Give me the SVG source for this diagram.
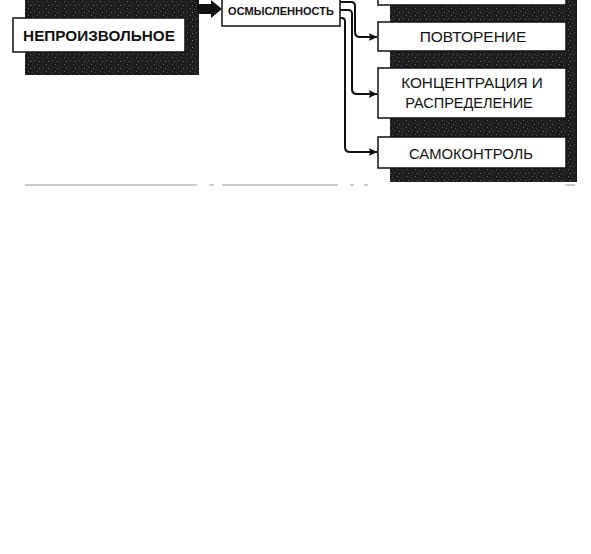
<svg xmlns="http://www.w3.org/2000/svg" width="591" height="554" viewBox="0 0 591 554">
<defs>
<pattern id="tex" width="9" height="7" patternUnits="userSpaceOnUse">
<rect width="9" height="7" fill="#1c1c1c"/>
<rect x="1" y="1" width="1" height="1" fill="#666"/>
<rect x="5" y="2" width="1" height="1" fill="#4a4a4a"/>
<rect x="3" y="5" width="1" height="1" fill="#777"/>
<rect x="7" y="4" width="1" height="1" fill="#555"/>
<rect x="6" y="6" width="1" height="1" fill="#404040"/>
</pattern>
<marker id="ah" markerWidth="9" markerHeight="8" refX="8.5" refY="4" orient="auto" markerUnits="userSpaceOnUse">
<path d="M0,0 L9,4 L0,8 L2,4 Z" fill="#111"/>
</marker>
</defs>
<style>
.panel{fill:url(#tex)}
.box{fill:#fff;stroke:#111;stroke-width:1.5}
.t{font-family:"Liberation Sans",Arial,sans-serif;font-size:15px;fill:#111;text-anchor:middle}
.b{font-weight:bold}
.con{fill:none;stroke:#111;stroke-width:2}
.rule{stroke:#999;stroke-width:1}
</style>
<rect width="591" height="554" fill="#fff"/>

<g id="left-panel">
<rect class="panel" x="25" y="0" width="174" height="75"/>
<polygon points="197,4 211,4 211,0 222,9 211,18 211,14 197,14" fill="#111"/>
</g>
<g id="node-neproizvolnoe">
<rect class="box" x="13" y="18" width="172" height="34"/>
<text class="t b" x="99" y="41" style="font-size:15.3px">НЕПРОИЗВОЛЬНОЕ</text>
</g>
<g id="node-osmyslennost">
<rect class="box" x="222" y="-2" width="118" height="28"/>
<text class="t b" x="281" y="15" style="font-size:11px">ОСМЫСЛЕННОСТЬ</text>
</g>

<g id="right-panel">
<rect class="panel" x="390" y="0" width="187" height="182"/>
</g>
<g id="node-top">
<rect class="box" x="378" y="-4" width="188" height="9"/>
</g>
<g id="node-povtorenie">
<rect class="box" x="378" y="22" width="188" height="29"/>
<text class="t" x="473" y="42" style="font-size:15.5px">ПОВТОРЕНИЕ</text>
</g>
<g id="node-koncentraciya">
<rect class="box" x="378" y="68" width="188" height="50"/>
<text class="t" x="472" y="88" style="font-size:15.3px">КОНЦЕНТРАЦИЯ И</text>
<text class="t" x="469" y="108" style="font-size:14.5px">РАСПРЕДЕЛЕНИЕ</text>
</g>
<g id="node-samokontrol">
<rect class="box" x="378" y="137" width="188" height="31"/>
<text class="t" x="471" y="159" style="font-size:14.8px">САМОКОНТРОЛЬ</text>
</g>

<g id="connectors">
<path class="con" d="M340,2 H351 Q355,2 355,6 V32 Q355,37 360,37 H377" marker-end="url(#ah)"/>
<path class="con" d="M340,10 H348 Q352,10 352,14 V89 Q352,94 357,94 H377" marker-end="url(#ah)"/>
<path class="con" d="M340,18 H342 Q345,18 345,22 V147 Q345,152 350,152 H377" marker-end="url(#ah)"/>
</g>

<g id="rules">
<line class="rule" x1="25" y1="185" x2="197" y2="185"/>
<line class="rule" x1="209" y1="185" x2="214" y2="185"/>
<line class="rule" x1="222" y1="185" x2="338" y2="185"/>
<line class="rule" x1="350" y1="185" x2="354" y2="185"/>
<line class="rule" x1="364" y1="185" x2="368" y2="185"/>
<line class="rule" x1="565" y1="185" x2="575" y2="185"/>
</g>
</svg>
